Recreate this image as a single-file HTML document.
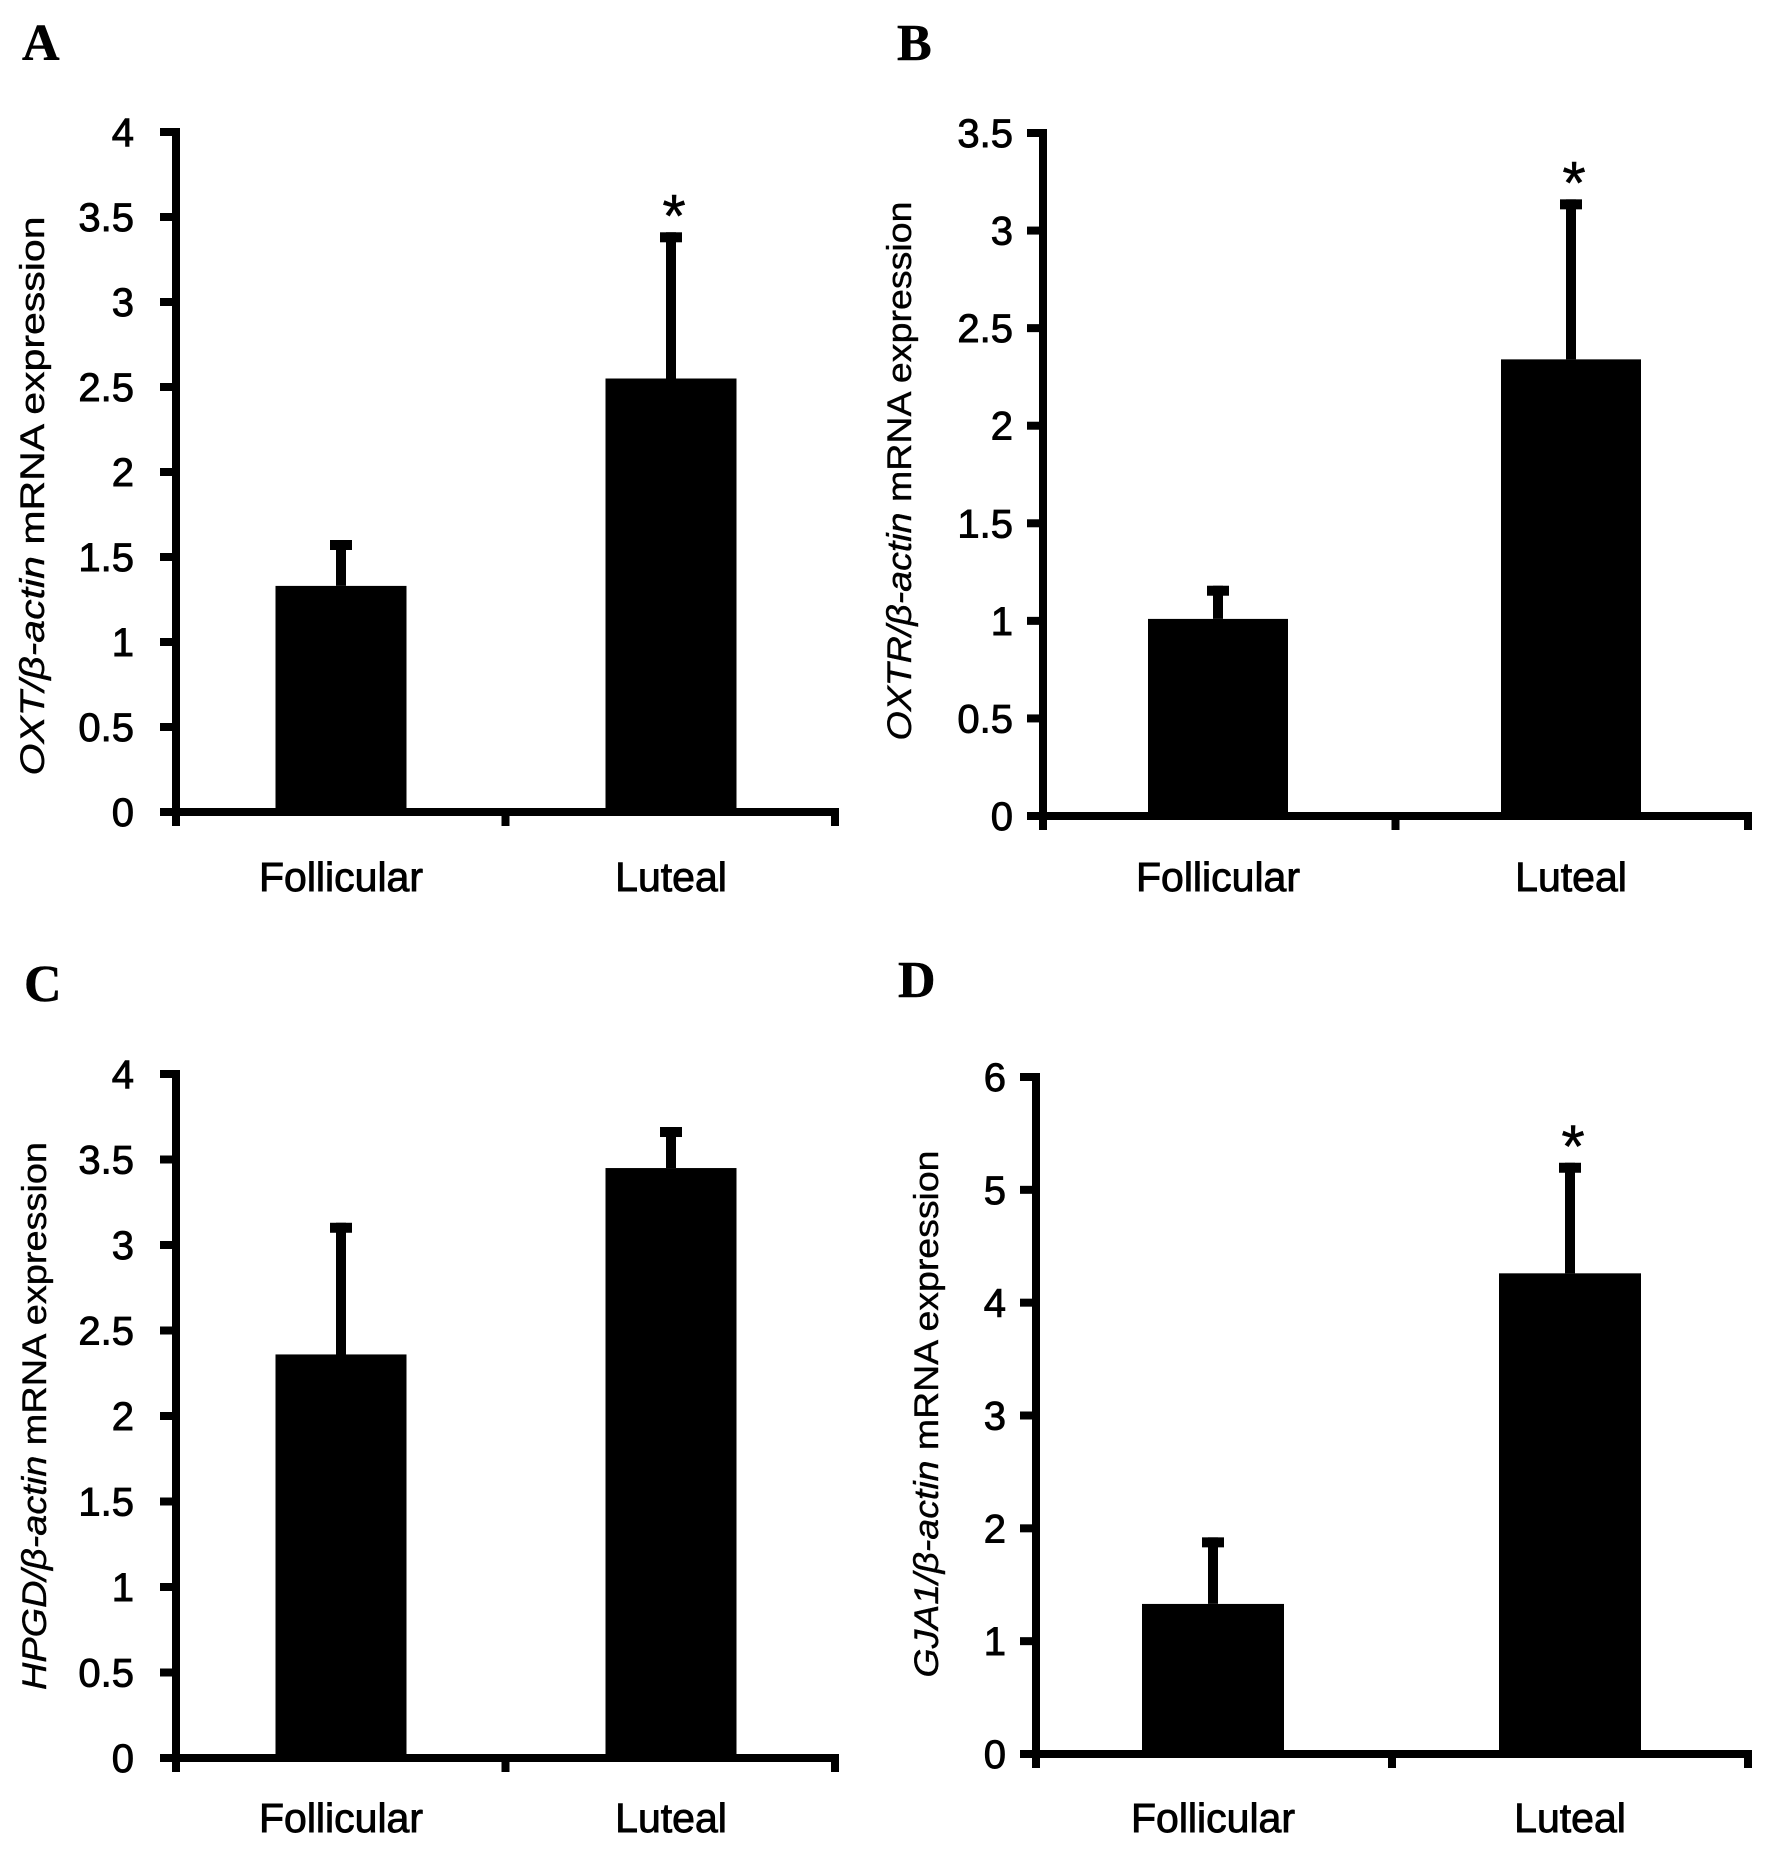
<!DOCTYPE html>
<html><head><meta charset="utf-8"><style>
html,body{margin:0;padding:0;background:#fff}
svg{display:block}
text{font-family:"Liberation Sans",Arial,sans-serif;fill:#000;stroke:#000;stroke-width:0.9px}
.lt{font-family:"Liberation Serif",serif;font-weight:bold;stroke-width:0.5px}
</style></head><body>
<svg id="fig" width="1772" height="1853" viewBox="0 0 1772 1853" xmlns="http://www.w3.org/2000/svg"></svg>
<script>
const categories = ["Follicular", "Luteal"];
const meansA = [1.33, 2.55];
const errA = [1.60, 3.41];
const meansB = [1.01, 2.34];
const errB = [1.18, 3.16];
const meansC = [2.36, 3.45];
const errC = [3.13, 3.69];
const meansD = [1.33, 4.26];
const errD = [1.92, 5.24];
const sigA = [false, true];
const sigB = [false, true];
const sigC = [false, false];
const sigD = [false, true];
const ticksA = ["0","0.5","1","1.5","2","2.5","3","3.5","4"];
const ticksB = ["0","0.5","1","1.5","2","2.5","3","3.5"];
const ticksC = ["0","0.5","1","1.5","2","2.5","3","3.5","4"];
const ticksD = ["0","1","2","3","4","5","6"];

const NS = "http://www.w3.org/2000/svg";
const svg = document.getElementById('fig');
function mk(tag, attrs, parent){
  const e = document.createElementNS(NS, tag);
  for (const k in attrs) e.setAttribute(k, attrs[k]);
  (parent||svg).appendChild(e);
  return e;
}
const panels = [
  {id:'a', letter:'A', lx:22, ly:60, gene:'OXT', ax:176, xEnd:835, yTop:132, yZero:812, centers:[341,671], bw:131, means:meansA, errs:errA, sig:sigA, ticks:ticksA, tickRight:134, titleX:44, titleY:496, titleLen:559, catY:891},
  {id:'b', letter:'B', lx:897, ly:60, gene:'OXTR', ax:1043, xEnd:1748, yTop:133, yZero:816, centers:[1218,1571], bw:140, means:meansB, errs:errB, sig:sigB, ticks:ticksB, tickRight:1013, titleX:911, titleY:471, titleLen:539, catY:891},
  {id:'c', letter:'C', lx:24, ly:1001, gene:'HPGD', ax:176, xEnd:835, yTop:1074, yZero:1758, centers:[341,671], bw:131, means:meansC, errs:errC, sig:sigC, ticks:ticksC, tickRight:134, titleX:46, titleY:1416, titleLen:548, catY:1832},
  {id:'d', letter:'D', lx:898, ly:997, gene:'GJA1', ax:1036, xEnd:1748, yTop:1077, yZero:1754, centers:[1213,1570], bw:142, means:meansD, errs:errD, sig:sigD, ticks:ticksD, tickRight:1006, titleX:938, titleY:1414, titleLen:527, catY:1832}
];
panels.forEach(p => {
  const g = mk('g', {});
  
  
  const yMax = parseFloat(p.ticks[p.ticks.length-1]);
  const yScale = v => p.yZero - (v / yMax) * (p.yZero - p.yTop);
  const lt = mk('text', {x:p.lx, y:p.ly, 'font-size':52, class:'lt'}, g);
  lt.textContent = p.letter;
  
  
  p.means.forEach((m, i) => {
    const cx = p.centers[i];
    const r = mk('rect', {x:cx - p.bw/2, y:yScale(m), width:p.bw, height:p.yZero - yScale(m), fill:'#000'}, g);
    
    
    const eb = mk('g', {}, g);
    
    
    mk('line', {x1:cx, x2:cx, y1:yScale(m), y2:yScale(p.errs[i]), stroke:'#000', 'stroke-width':10}, eb);
    mk('rect', {x:cx-11, y:yScale(p.errs[i]), width:22, height:10, fill:'#000'}, eb);
    if (p.sig[i]) {
      const st = mk('text', {x:cx+3, y:yScale(p.errs[i]) + 4, 'font-size':60, 'text-anchor':'middle', style:'stroke-width:0.5px'}, g);
      st.textContent = '*';
      
      
    }
    const cl = mk('text', {x:cx, y:p.catY, 'font-size':41, 'text-anchor':'middle'}, g);
    cl.textContent = categories[i];
    
    
  });
  const ya = mk('line', {x1:p.ax, x2:p.ax, y1:p.yTop-4, y2:p.yZero+13, stroke:'#000', 'stroke-width':8}, g);
  
  
  const xa = mk('line', {x1:p.ax-14, x2:p.xEnd+4, y1:p.yZero, y2:p.yZero, stroke:'#000', 'stroke-width':8}, g);
  
  
  [p.ax, (p.ax+p.xEnd)/2, p.xEnd].forEach(x => {
    const t = mk('line', {x1:x, x2:x, y1:p.yZero, y2:p.yZero+14, stroke:'#000', 'stroke-width':8}, g);
    
    
  });
  p.ticks.forEach(tk => {
    const y = yScale(parseFloat(tk));
    const t = mk('line', {x1:p.ax-16, x2:p.ax, y1:y, y2:y, stroke:'#000', 'stroke-width':8}, g);
    
    
    const tl = mk('text', {x:p.tickRight, y:y+14, 'font-size':40, 'text-anchor':'end'}, g);
    tl.textContent = tk;
    
    
  });
  const tt = mk('text', {x:0, y:0, 'font-size':34, 'text-anchor':'middle', textLength:p.titleLen, lengthAdjust:'spacingAndGlyphs', transform:`translate(${p.titleX},${p.titleY}) rotate(-90)`, style:'stroke-width:0.4px'}, g);
  
  
  const s1 = mk('tspan', {'font-style':'italic'}, tt); s1.textContent = p.gene + '/β-actin';
  const s2 = mk('tspan', {}, tt); s2.textContent = ' mRNA expression';
});
</script>
</body></html>
